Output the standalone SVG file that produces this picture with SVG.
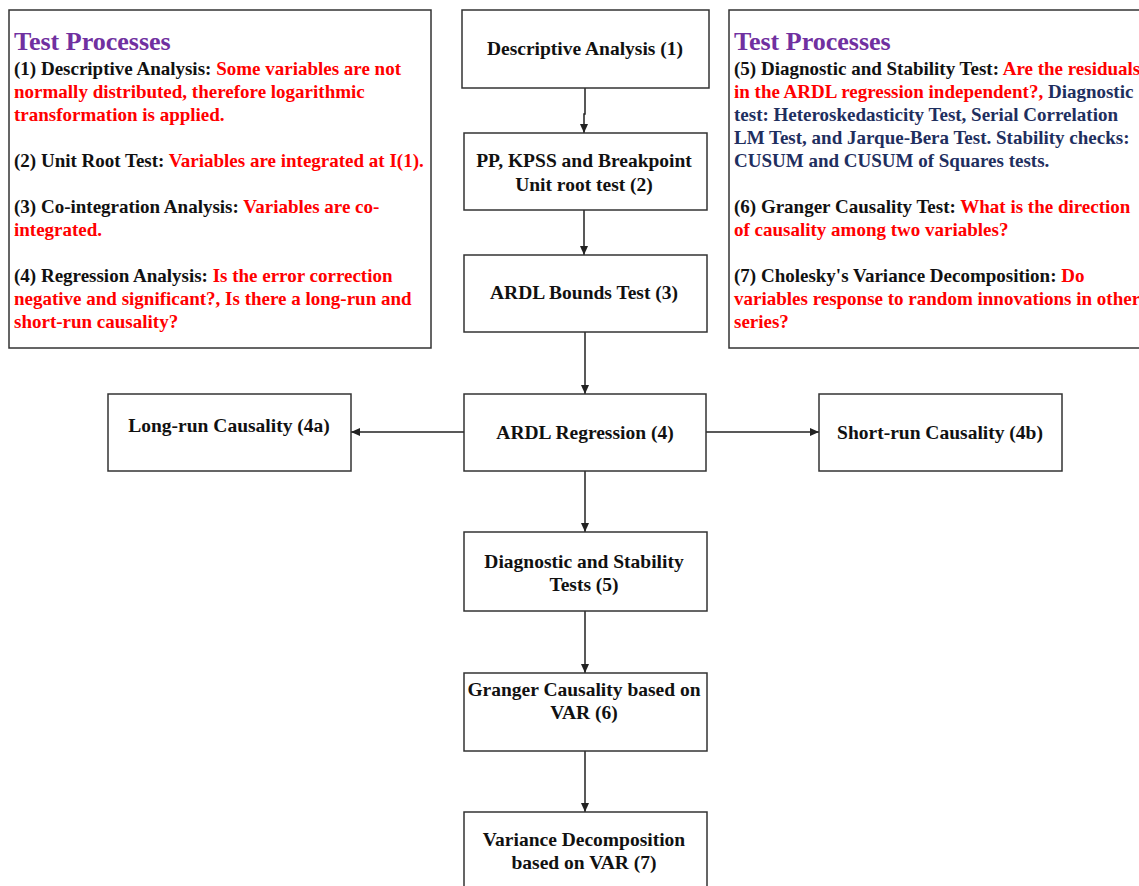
<svg xmlns="http://www.w3.org/2000/svg" width="1139" height="886" viewBox="0 0 1139 886">
<defs>
<style>
.box{fill:#fff;stroke:#333;stroke-width:1.5}
text{font-family:"Liberation Serif","Times New Roman",serif;font-weight:bold}
.t{font-size:19px;fill:#111}
.m{font-size:19.5px}
.c{text-anchor:middle}
.h{font-size:26px;fill:#7030A0}
.r{fill:#FF0000}
.b{fill:#1F2F5F}
.k{fill:#111}
.line{stroke:#222;stroke-width:1.5;fill:none}
</style>
<marker id="ah" markerWidth="10" markerHeight="10" refX="9" refY="5" orient="auto" markerUnits="userSpaceOnUse">
<path d="M0,1 L9,5 L0,9 Z" fill="#222"/>
</marker>
</defs>
<rect width="1139" height="886" fill="#fff"/>

<g id="connectors">
<path class="line" d="M585,88 V114 H584 V133" marker-end="url(#ah)"/>
<line class="line" x1="584" y1="210" x2="584" y2="255" marker-end="url(#ah)"/>
<line class="line" x1="585" y1="332" x2="585" y2="394" marker-end="url(#ah)"/>
<line class="line" x1="464" y1="432" x2="351" y2="432" marker-end="url(#ah)"/>
<line class="line" x1="706" y1="432" x2="819" y2="432" marker-end="url(#ah)"/>
<line class="line" x1="585" y1="471" x2="585" y2="532" marker-end="url(#ah)"/>
<line class="line" x1="585" y1="611" x2="585" y2="673" marker-end="url(#ah)"/>
<line class="line" x1="585" y1="751" x2="585" y2="812" marker-end="url(#ah)"/>
</g>

<g id="left-panel">
<rect class="box" x="9" y="10" width="422" height="338"/>
<text class="h" x="14" y="50">Test Processes</text>
<text class="t" x="14" y="75"><tspan class="k">(1) Descriptive Analysis: </tspan><tspan class="r">Some variables are not</tspan></text>
<text class="t r" x="14" y="98">normally distributed, therefore logarithmic</text>
<text class="t r" x="14" y="121">transformation is applied.</text>
<text class="t" x="14" y="167"><tspan class="k">(2) Unit Root Test: </tspan><tspan class="r">Variables are integrated at I(1).</tspan></text>
<text class="t" x="14" y="213"><tspan class="k">(3) Co-integration Analysis: </tspan><tspan class="r">Variables are co-</tspan></text>
<text class="t r" x="14" y="236">integrated.</text>
<text class="t" x="14" y="282"><tspan class="k">(4) Regression Analysis: </tspan><tspan class="r">Is the error correction</tspan></text>
<text class="t r" x="14" y="305">negative and significant?, Is there a long-run and</text>
<text class="t r" x="14" y="328">short-run causality?</text>
</g>

<g id="right-panel">
<rect class="box" x="729" y="10" width="420" height="338"/>
<text class="h" x="734" y="50">Test Processes</text>
<text class="t" x="734" y="75"><tspan class="k">(5) Diagnostic and Stability Test: </tspan><tspan class="r">Are the residuals</tspan></text>
<text class="t" x="734" y="98"><tspan class="r">in the ARDL regression independent?, </tspan><tspan class="b">Diagnostic</tspan></text>
<text class="t b" x="734" y="121">test: Heteroskedasticity Test, Serial Correlation</text>
<text class="t b" x="734" y="144">LM Test, and Jarque-Bera Test. Stability checks:</text>
<text class="t b" x="734" y="167">CUSUM and CUSUM of Squares tests.</text>
<text class="t" x="734" y="213"><tspan class="k">(6) Granger Causality Test: </tspan><tspan class="r">What is the direction</tspan></text>
<text class="t r" x="734" y="236">of causality among two variables?</text>
<text class="t" x="734" y="282"><tspan class="k">(7) Cholesky's Variance Decomposition: </tspan><tspan class="r">Do</tspan></text>
<text class="t r" x="734" y="305">variables response to random innovations in other</text>
<text class="t r" x="734" y="328">series?</text>
</g>

<g id="n1">
<rect class="box" x="462" y="10" width="247" height="78"/>
<text class="t m c" x="585" y="55">Descriptive Analysis (1)</text>
</g>
<g id="n2">
<rect class="box" x="464" y="133" width="243" height="77"/>
<text class="t m c" x="584" y="167">PP, KPSS and Breakpoint</text>
<text class="t m c" x="584" y="191">Unit root test (2)</text>
</g>
<g id="n3">
<rect class="box" x="464" y="255" width="243" height="77"/>
<text class="t m c" x="584" y="299">ARDL Bounds Test (3)</text>
</g>
<g id="n4">
<rect class="box" x="464" y="394" width="242" height="77"/>
<text class="t m c" x="585" y="439">ARDL Regression (4)</text>
</g>
<g id="n4a">
<rect class="box" x="108" y="394" width="243" height="77"/>
<text class="t m c" x="229" y="432">Long-run Causality (4a)</text>
</g>
<g id="n4b">
<rect class="box" x="819" y="394" width="243" height="77"/>
<text class="t m c" x="940" y="439">Short-run Causality (4b)</text>
</g>
<g id="n5">
<rect class="box" x="464" y="532" width="243" height="79"/>
<text class="t m c" x="584" y="568">Diagnostic and Stability</text>
<text class="t m c" x="584" y="591">Tests (5)</text>
</g>
<g id="n6">
<rect class="box" x="464" y="673" width="243" height="78"/>
<text class="t m c" x="584" y="696">Granger Causality based on</text>
<text class="t m c" x="584" y="719">VAR (6)</text>
</g>
<g id="n7">
<rect class="box" x="464" y="812" width="243" height="90"/>
<text class="t m c" x="584" y="846">Variance Decomposition</text>
<text class="t m c" x="584" y="869">based on VAR (7)</text>
</g>
</svg>
